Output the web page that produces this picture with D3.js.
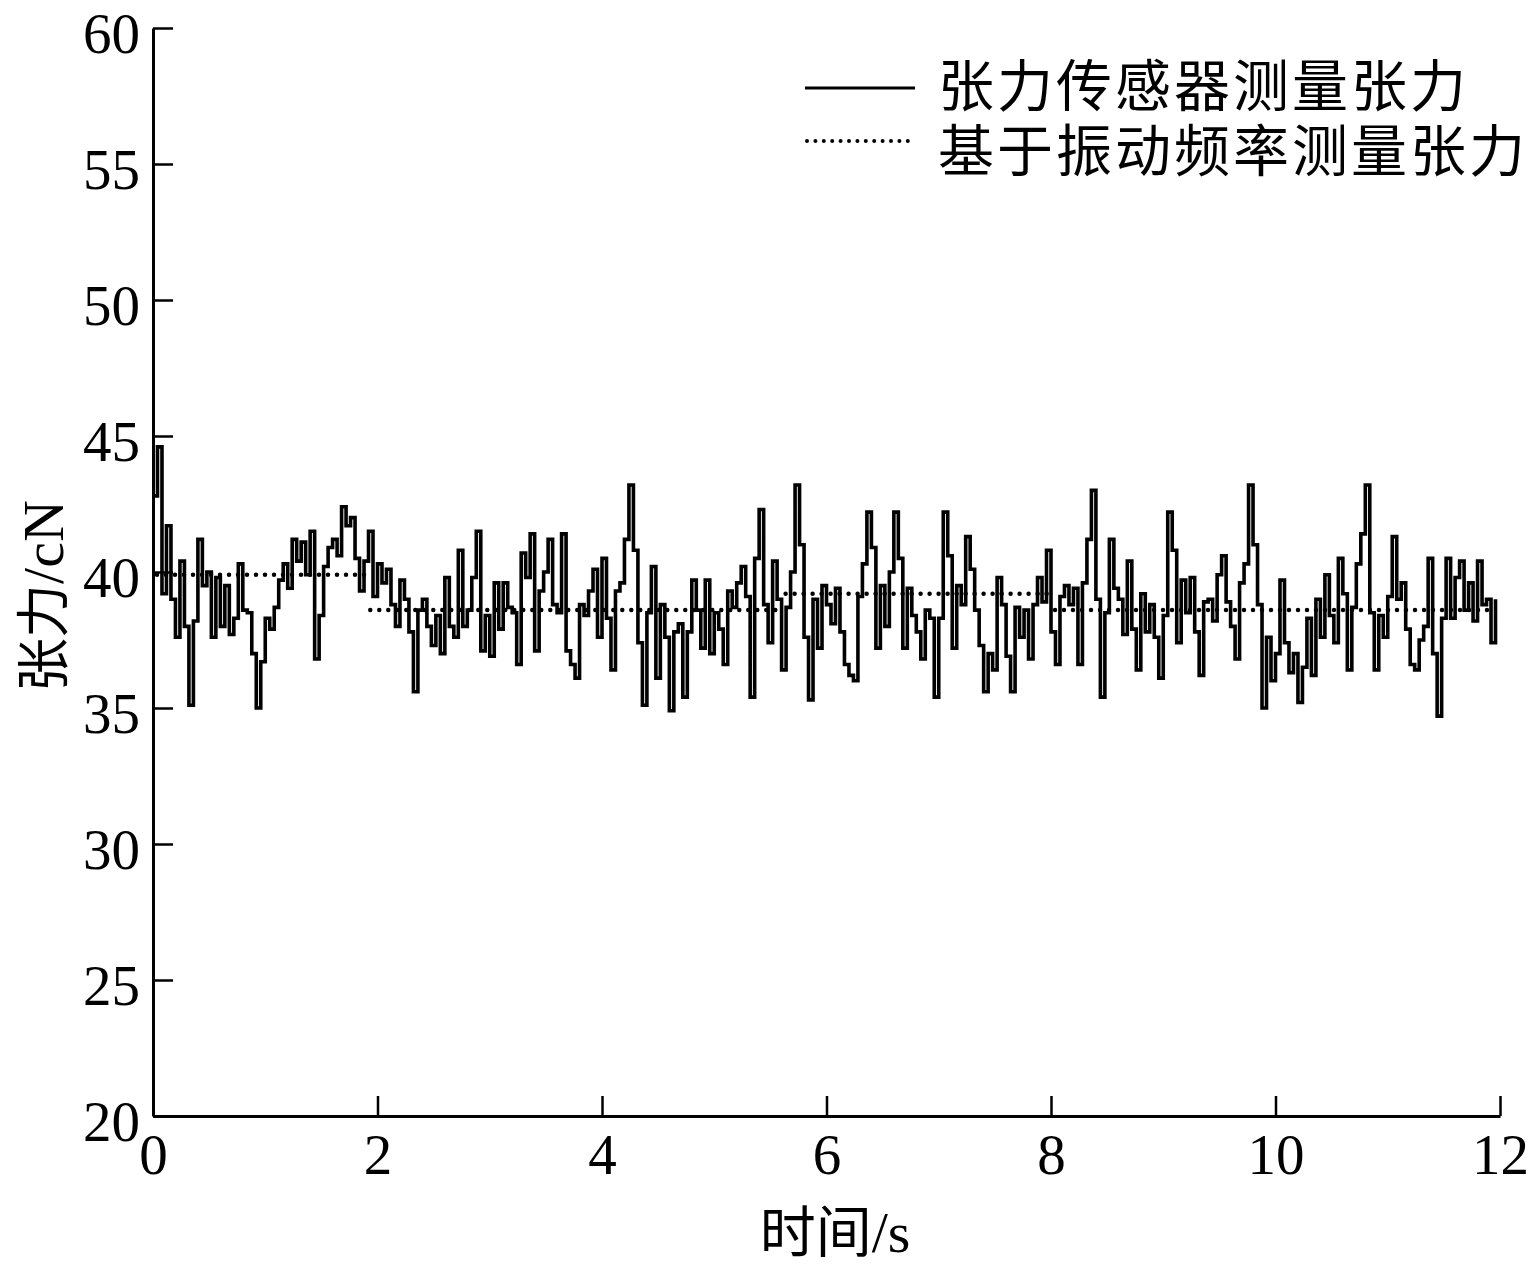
<!DOCTYPE html>
<html><head><meta charset="utf-8">
<script src="https://cdn.jsdelivr.net/npm/d3@7"></script>
<style>body{margin:0;background:#fff}svg{display:block}</style>
</head><body>
<script>
// ---------- data ----------
const sensorDt = 0.04; // seconds between samples
const sensorValues = [
  42.8, 44.6, 39.2, 41.7, 39.0, 37.6, 40.4, 38.0, 35.1, 38.2,
  41.2, 39.5, 40.0, 37.6, 39.8, 38.0, 39.5, 37.7, 38.3, 40.3,
  38.6, 38.5, 37.0, 35.0, 36.7, 38.3, 37.9, 38.7, 39.7, 40.3,
  39.4, 41.2, 40.4, 41.1, 39.9, 41.5, 36.8, 38.4, 40.2, 40.9,
  41.2, 40.6, 42.4, 41.7, 42.0, 40.5, 39.3, 40.4, 41.5, 39.1,
  40.3, 39.6, 40.1, 38.8, 38.0, 39.7, 39.0, 37.8, 35.6, 38.6,
  39.0, 38.0, 37.3, 38.4, 37.0, 39.8, 38.0, 37.6, 40.8, 38.0,
  38.6, 39.8, 41.5, 37.1, 38.4, 36.9, 39.6, 37.9, 39.6, 38.7,
  38.5, 36.6, 40.7, 39.8, 41.4, 37.1, 39.3, 40.0, 41.2, 38.8,
  38.5, 41.4, 37.1, 36.6, 36.1, 38.8, 38.4, 39.3, 40.1, 37.6,
  40.5, 38.3, 36.4, 39.3, 39.6, 41.2, 43.2, 40.8, 37.4, 35.1,
  38.5, 40.2, 36.1, 38.8, 37.6, 34.9, 37.8, 38.1, 35.4, 37.8,
  39.7, 38.6, 37.2, 39.7, 37.0, 38.5, 37.9, 36.6, 39.3, 38.7,
  39.6, 40.2, 39.1, 35.4, 40.5, 42.3, 38.8, 37.4, 40.4, 39.0,
  36.4, 38.7, 40.0, 43.2, 41.0, 37.6, 35.3, 39.0, 37.2, 39.5,
  38.8, 38.1, 39.4, 37.8, 36.6, 36.2, 36.0, 39.1, 40.3, 42.2,
  40.9, 37.2, 39.5, 38.0, 40.0, 42.2, 40.5, 37.2, 39.4, 38.4,
  37.8, 36.8, 38.6, 38.3, 35.4, 38.3, 42.2, 40.6, 37.2, 39.5,
  38.8, 41.3, 40.1, 38.6, 37.3, 35.6, 37.0, 36.4, 39.8, 38.8,
  36.9, 35.6, 38.7, 37.6, 38.6, 36.8, 38.8, 39.8, 38.9, 40.8,
  37.8, 36.6, 39.1, 39.5, 38.8, 39.4, 36.6, 39.6, 41.2, 43.0,
  39.0, 35.4, 38.5, 41.2, 39.4, 39.0, 37.7, 40.4, 37.9, 36.4,
  39.2, 37.8, 38.8, 37.6, 36.1, 38.4, 42.2, 40.8, 37.4, 39.7,
  38.5, 39.8, 37.8, 36.2, 38.9, 39.0, 38.2, 39.9, 40.6, 38.9,
  38.0, 36.8, 39.6, 40.3, 43.2, 41.0, 38.8, 35.0, 37.6, 36.0,
  37.0, 39.7, 37.4, 36.3, 37.0, 35.2, 36.5, 38.3, 36.2, 39.0,
  37.6, 39.9, 38.4, 37.4, 40.5, 39.2, 36.4, 38.7, 40.3, 41.4,
  43.2, 38.5, 36.4, 38.4, 37.6, 39.1, 41.3, 39.0, 39.6, 37.9,
  36.6, 36.4, 37.5, 38.0, 40.5, 37.0, 34.7, 38.3, 40.5, 38.3,
  39.8, 40.4, 38.6, 39.6, 38.2, 40.4, 38.8, 39.0, 37.4, 39.0
];
// vibration-frequency tension: piecewise constant segments
const freqStart = [0, 1.9, 5.6, 8.0];
const freqEnd   = [1.9, 5.6, 8.0, 11.96];
const freqValues = [39.9, 38.6, 39.2, 38.6];

const xTicks = [0, 2, 4, 6, 8, 10, 12];
const yTicks = [20, 25, 30, 35, 40, 45, 50, 55, 60];
const legendLabels = ["张力传感器测量张力", "基于振动频率测量张力"];
const xLabelCJK = "时间", xLabelUnit = "/s";
const yLabelCJK = "张力", yLabelUnit = "/cN";

// ---------- layout ----------
const W = 1535, H = 1269;
const svg = d3.select("body").append("svg").attr("width", W).attr("height", H);
const x = d3.scaleLinear().domain([0, 12]).range([153, 1500]);
const y = d3.scaleLinear().domain([20, 60]).range([1116, 28]);
const serif = "'Liberation Serif','Times New Roman',serif";
const cjk = "'Noto Sans CJK SC','Noto Sans',sans-serif";

// dotted series (under solid)
const dotted = svg.append("g");
freqValues.forEach((v, i) => {
  dotted.append("line")
    .attr("x1", x(freqStart[i]) + 4).attr("x2", x(freqEnd[i]))
    .attr("y1", y(v)).attr("y2", y(v))
    .attr("stroke", "#000").attr("stroke-width", 4.5)
    .attr("stroke-linecap", "round").attr("stroke-dasharray", "0,9");
});

// solid series
const sensorData = sensorValues.map((v, i) => [i * sensorDt, v]);
const line = d3.line().x(d => x(d[0])).y(d => y(d[1])).curve(d3.curveStepAfter);
svg.append("path").datum(sensorData).attr("d", line)
  .attr("fill", "none").attr("stroke", "#000").attr("stroke-width", 3.6)
  .attr("stroke-linejoin", "miter");

// axes
const xAxis = d3.axisBottom(x).tickValues(xTicks).tickSizeInner(-20).tickSizeOuter(0).tickPadding(18).tickFormat(d3.format("d"));
const yAxis = d3.axisLeft(y).tickValues(yTicks).tickSizeInner(-20).tickSizeOuter(0).tickPadding(13).tickFormat(d3.format("d"));
const gx = svg.append("g").attr("transform", `translate(0,${y(20)})`).call(xAxis);
const gy = svg.append("g").attr("transform", `translate(${x(0)},0)`).call(yAxis);
[gx, gy].forEach(g => {
  g.select(".domain").attr("stroke", "#000").attr("stroke-width", 3);
  g.selectAll(".tick line").attr("stroke", "#000").attr("stroke-width", 2.5);
  g.selectAll(".tick text").attr("fill", "#000").style("font-family", serif).style("font-size", "57px");
});
gy.selectAll(".tick text").attr("dy", "0.43em");

// axis titles
const xt = svg.append("text").attr("x", 835).attr("y", 1252).attr("text-anchor", "middle").attr("fill", "#000");
xt.append("tspan").style("font-family", cjk).style("font-size", "56px").text(xLabelCJK);
xt.append("tspan").style("font-family", serif).style("font-size", "58px").text(xLabelUnit);

const yt = svg.append("text").attr("transform", "translate(63,596) rotate(-90)").attr("text-anchor", "middle").attr("fill", "#000");
yt.append("tspan").style("font-family", cjk).style("font-size", "54px").text(yLabelCJK);
yt.append("tspan").style("font-family", serif).style("font-size", "58px").text(yLabelUnit);

// legend
const lg = svg.append("g");
lg.append("line").attr("x1", 805).attr("x2", 915).attr("y1", 88).attr("y2", 88)
  .attr("stroke", "#000").attr("stroke-width", 3);
lg.append("line").attr("x1", 807).attr("x2", 915).attr("y1", 141).attr("y2", 141)
  .attr("stroke", "#000").attr("stroke-width", 4).attr("stroke-linecap", "round").attr("stroke-dasharray", "0,8.4");
legendLabels.forEach((t, i) => {
  lg.append("text").attr("x", 938).attr("y", i === 0 ? 106 : 171)
    .attr("fill", "#000").style("font-family", cjk).style("font-size", "56px")
    .style("letter-spacing", "3px").text(t);
});
</script>
</body></html>
